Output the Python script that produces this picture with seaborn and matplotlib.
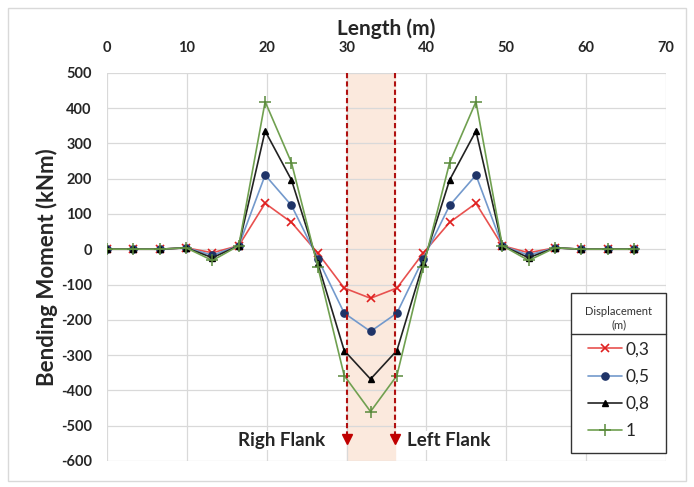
import numpy as np
import pandas as pd
import seaborn as sns
import matplotlib.pyplot as plt
from matplotlib.lines import Line2D
from matplotlib.patches import Rectangle

sns.set_style("white")
plt.rcParams['font.family'] = ['Lato', 'DejaVu Sans']
plt.rcParams['axes.unicode_minus'] = False

length = [0, 3.3, 6.6, 9.9, 13.2, 16.5, 19.8, 23.1, 26.4, 29.7, 33.0,
          36.3, 39.6, 42.9, 46.2, 49.5, 52.8, 56.1, 59.4, 62.7, 66.0]
m_03 = [0, 0, 0, 4, -10, 10, 130, 76, -11, -110, -139, -110, -11, 76, 130, 10, -10, 4, 0, 0, 0]
m_05 = [0, 0, 0, 4, -17, 10, 210, 124, -27, -181, -233, -181, -27, 124, 210, 10, -17, 4, 0, 0, 0]
m_08 = [0, 0, 0, 4, -24, 10, 335, 196, -40, -287, -368, -287, -40, 196, 335, 10, -24, 4, 0, 0, 0]
m_10 = [0, 0, 0, 4, -32, 10, 418, 245, -50, -358, -460, -358, -50, 245, 418, 10, -32, 4, 0, 0, 0]
labels = ["0,3", "0,5", "0,8", "1"]
flank_left, flank_right = 30, 36

series = [m_03, m_05, m_08, m_10]
styles = [
    dict(color="#E8514F", marker="x", mfc="#E02020", mec="#E02020", ms=5.5, mew=1.2),
    dict(color="#7399CC", marker="o", mfc="#1F3468", mec="#1F3468", ms=5.2, mew=1),
    dict(color="#222222", marker="^", mfc="black", mec="black", ms=3.8, mew=1),
    dict(color="#70A050", marker="+", mfc="#5A8A3C", mec="#5A8A3C", ms=8, mew=1.1),
]

fig = plt.figure(figsize=(6.94, 4.87), dpi=100)
ax = fig.add_axes([0.1542, 0.0534, 0.8055, 0.7973])

ax.axvspan(flank_left, flank_right, color="#FBE9DD", zorder=0)

for vals, lab, st in zip(series, labels, styles):
    sns.lineplot(x=length, y=vals, ax=ax, label=lab, linewidth=1.2,
                 color=st["color"], marker=st["marker"], markerfacecolor=st["mfc"],
                 markeredgecolor=st["mec"], markersize=st["ms"], markeredgewidth=st["mew"],
                 zorder=3)

for xv in (flank_left, flank_right):
    ax.plot([xv, xv], [500, -530], ls=(0, (2.5, 1.5)), color="#B01010", lw=1.5, zorder=4)
    ax.plot([xv], [-538], marker="v", color="#C00000", ms=7, zorder=4)

ax.text(27.3, -542, "Righ Flank", ha="right", va="center", fontsize=13.5, fontweight="bold",
        bbox=dict(facecolor="white", edgecolor="none", pad=1), zorder=4)
ax.text(37.6, -542, "Left Flank", ha="left", va="center", fontsize=13.5, fontweight="bold",
        bbox=dict(facecolor="white", edgecolor="none", pad=1), zorder=4)

ax.set_xlim(0, 70)
ax.set_ylim(-600, 500)
ax.set_xticks(range(0, 71, 10))
ax.set_yticks(range(-600, 501, 100))
ax.xaxis.tick_top()
ax.xaxis.set_label_position("top")
ax.tick_params(length=0, labelsize=10.5)
ax.tick_params(axis="x", pad=13)
ax.tick_params(axis="y", pad=11)
for t in ax.get_xticklabels() + ax.get_yticklabels():
    t.set_fontweight("bold")
ax.set_xlabel("Length (m)", fontsize=15, fontweight="bold", labelpad=4)
ax.set_ylabel("Bending Moment (kNm)", fontsize=16, fontweight="bold", labelpad=2)
ax.grid(True, color="#D9D9D9", lw=0.9)
ax.set_axisbelow(True)
for s in ax.spines.values():
    s.set_visible(False)

leg = ax.legend(title="Displacement\n(m)", loc="lower right", bbox_to_anchor=(1.0, 0.02),
                borderaxespad=0, frameon=True, fancybox=False, edgecolor="#333333",
                fontsize=12.5, title_fontsize=8, handlelength=2.0, handletextpad=0.2,
                labelspacing=0.65, borderpad=0.8, framealpha=1)
leg.get_frame().set_linewidth(1.0)
leg.get_title().set_color("#333333")
leg.get_title().set_multialignment("center")
leg._legend_box.align = "center"
leg.set_zorder(6)

fig.canvas.draw()
lb = leg.get_window_extent()
tb = leg.get_title().get_window_extent()
yline = tb.y0 - 4
inv = fig.transFigure.inverted()
(x0, y0), (x1, _) = inv.transform([(lb.x0, yline), (lb.x1, yline)])
fig.add_artist(Line2D([x0, x1], [y0, y0], color="#333333", lw=1.0, zorder=7))

fig.add_artist(Rectangle((0.012, 0.012), 0.976, 0.972, transform=fig.transFigure,
                         fill=False, edgecolor="#D9D9D9", lw=1))

fig.savefig("out.png", dpi=100)
